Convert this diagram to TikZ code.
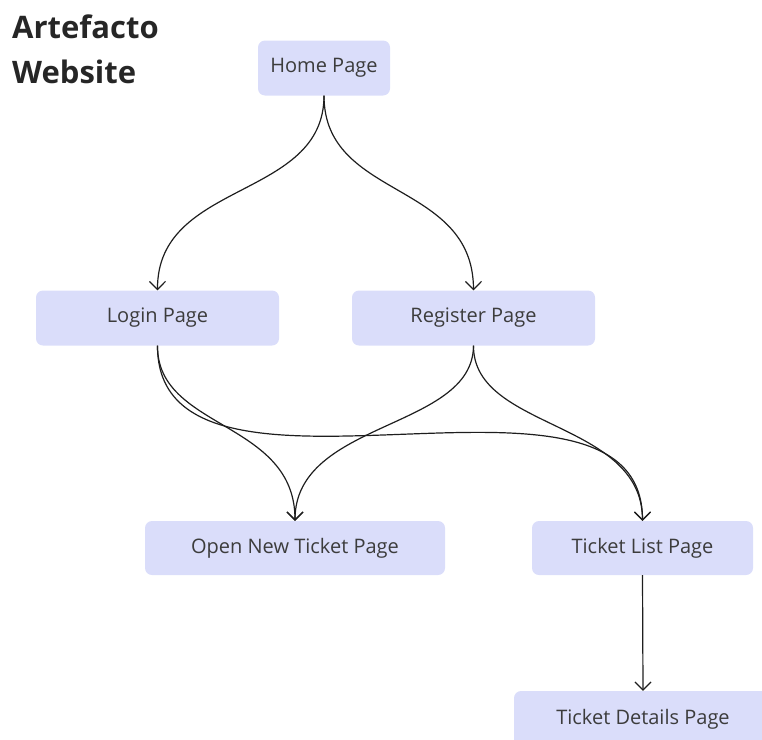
\documentclass[tikz,border=0pt]{standalone}
\usepackage{fontspec}
\setmainfont{Open Sans}
\usetikzlibrary{arrows.meta}
\definecolor{pagefill}{RGB}{218,221,250}
\definecolor{pagetext}{RGB}{60,60,60}
\definecolor{linkline}{RGB}{30,30,30}
\tikzset{
	page/.style={fill=pagefill, rounded corners=7pt, text=pagetext, inner sep=0pt,
		minimum height=55pt, font=\fontsize{20}{22}\selectfont},
	link/.style={draw=linkline, line width=1.2pt, -{Straight Barb[length=8pt,width=16pt]}}
}
\begin{document}
\begin{tikzpicture}[x=1pt,y={(0pt,-1pt)}]
				\useasboundingbox (0,0) rectangle (762,739);
				\clip (0,0) rectangle (762,739);
				\node[anchor=north west, inner sep=0pt, align=left, text=black!85,
					font=\fontsize{31}{45}\selectfont\bfseries] (title) at (12,15) {Artefacto\\Website};
				% pages
				\node[page, minimum width=132pt] (home) at (324,68) {Home Page};
				\node[page, minimum width=243pt] (login) at (157.5,318) {Login Page};
				\node[page, minimum width=243pt] (register) at (473.5,318) {Register Page};
				\node[page, minimum width=300pt, minimum height=54pt] (newticket) at (295,548) {Open New Ticket Page};
				\node[page, minimum width=221pt, minimum height=54pt] (ticketlist) at (642.5,548) {Ticket List Page};
				\node[page, minimum width=258pt, minimum height=56pt] (details) at (643,719) {Ticket Details Page};
				% links
				\draw[link] (home.south) .. controls (324,200) and (157,180) .. (login.north);
				\draw[link] (home.south) .. controls (324,200) and (473,180) .. (register.north);
				\draw[link] (login.south) .. controls (157,430) and (295,420) .. (newticket.north);
				\draw[link] (login.south) .. controls (157,540) and (642,330) .. (ticketlist.north);
				\draw[link] (register.south) .. controls (473,430) and (295,420) .. (newticket.north);
				\draw[link] (register.south) .. controls (473,430) and (642,420) .. (ticketlist.north);
				\draw[link] (ticketlist.south) -- (details.north);
			\end{tikzpicture}
\end{document}
